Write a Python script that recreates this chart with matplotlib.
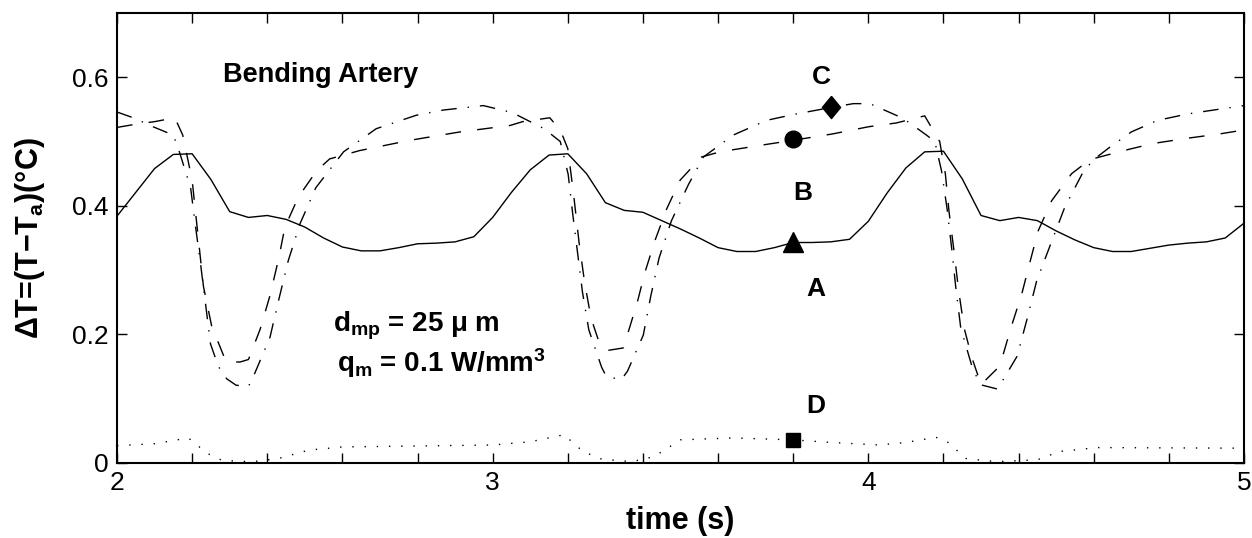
import matplotlib
matplotlib.use("Agg")
import matplotlib.pyplot as plt

plt.rcParams['font.family'] = ['Liberation Sans', 'DejaVu Sans']
plt.rcParams['mathtext.fontset'] = 'custom'
plt.rcParams['mathtext.rm'] = 'Liberation Sans'
plt.rcParams['mathtext.bf'] = 'Liberation Sans:bold'
plt.rcParams['mathtext.it'] = 'Liberation Sans:italic'

# --- data ---
# A (solid): sampled every 0.05 s
t_a = [2.00, 2.05, 2.10, 2.15, 2.20, 2.25, 2.30, 2.35, 2.40, 2.45,
       2.50, 2.55, 2.60, 2.65, 2.70, 2.75, 2.80, 2.85, 2.90, 2.95,
       3.00, 3.05, 3.10, 3.15, 3.20, 3.25, 3.30, 3.35, 3.40, 3.45,
       3.50, 3.55, 3.60, 3.65, 3.70, 3.75, 3.80, 3.85, 3.90, 3.95,
       4.00, 4.05, 4.10, 4.15, 4.20, 4.25, 4.30, 4.35, 4.40, 4.45,
       4.50, 4.55, 4.60, 4.65, 4.70, 4.75, 4.80, 4.85, 4.90, 4.95, 5.00]
dT_a = [0.384, 0.421, 0.458, 0.480, 0.481, 0.441, 0.391, 0.382, 0.385, 0.379,
        0.367, 0.350, 0.336, 0.330, 0.330, 0.335, 0.341, 0.342, 0.344, 0.352,
        0.382, 0.421, 0.456, 0.479, 0.481, 0.450, 0.405, 0.393, 0.390, 0.377,
        0.364, 0.350, 0.335, 0.329, 0.329, 0.335, 0.343, 0.343, 0.344, 0.348,
        0.376, 0.420, 0.459, 0.484, 0.485, 0.442, 0.385, 0.377, 0.382, 0.377,
        0.361, 0.347, 0.335, 0.329, 0.329, 0.334, 0.339, 0.342, 0.344, 0.350, 0.373]

# B (dashed)
t_b = [2.000, 2.050, 2.100, 2.154, 2.175, 2.200, 2.230, 2.252, 2.290, 2.327,
       2.350, 2.381, 2.407, 2.430, 2.447, 2.483, 2.532, 2.566, 2.646, 2.780,
       2.913, 3.046, 3.080, 3.152, 3.180, 3.200, 3.215, 3.230, 3.245, 3.262,
       3.285, 3.305, 3.348, 3.385, 3.405, 3.432, 3.463, 3.499, 3.556, 3.605,
       3.711, 3.800, 3.906, 4.000, 4.075, 4.150, 4.190, 4.205, 4.215, 4.228,
       4.240, 4.255, 4.275, 4.300, 4.345, 4.359, 4.381, 4.408, 4.430, 4.452,
       4.488, 4.541, 4.590, 4.680, 4.758, 4.847, 4.936, 5.000]
dT_b = [0.522, 0.527, 0.531, 0.537, 0.510, 0.440, 0.275, 0.213, 0.158, 0.157,
        0.161, 0.208, 0.260, 0.317, 0.367, 0.414, 0.455, 0.473, 0.486, 0.502,
        0.515, 0.525, 0.531, 0.537, 0.518, 0.489, 0.420, 0.343, 0.280, 0.225,
        0.185, 0.175, 0.179, 0.250, 0.296, 0.346, 0.395, 0.440, 0.476, 0.484,
        0.494, 0.502, 0.512, 0.523, 0.529, 0.540, 0.500, 0.450, 0.390, 0.330,
        0.270, 0.210, 0.165, 0.122, 0.148, 0.169, 0.213, 0.262, 0.312, 0.361,
        0.408, 0.450, 0.472, 0.486, 0.497, 0.505, 0.512, 0.518]

# C (dash-dot)
t_c = [2.000, 2.048, 2.088, 2.150, 2.165, 2.196, 2.209, 2.223, 2.236, 2.249,
       2.270, 2.292, 2.317, 2.350, 2.367, 2.407, 2.431, 2.456, 2.487, 2.529,
       2.603, 2.690, 2.797, 2.868, 2.975, 3.046, 3.066, 3.137, 3.180, 3.201,
       3.213, 3.226, 3.239, 3.256, 3.290, 3.303, 3.343, 3.359, 3.401, 3.421,
       3.443, 3.476, 3.521, 3.561, 3.640, 3.729, 3.800, 3.900, 3.960, 4.004,
       4.093, 4.155, 4.177, 4.195, 4.210, 4.222, 4.233, 4.246, 4.275, 4.297,
       4.344, 4.396, 4.423, 4.448, 4.485, 4.523, 4.572, 4.600, 4.640, 4.700,
       4.770, 4.850, 4.930, 5.000]
dT_c = [0.546, 0.536, 0.525, 0.510, 0.486, 0.428, 0.368, 0.307, 0.246, 0.185,
        0.150, 0.131, 0.121, 0.119, 0.140, 0.195, 0.255, 0.315, 0.372, 0.428,
        0.484, 0.520, 0.541, 0.549, 0.556, 0.546, 0.541, 0.520, 0.500, 0.449,
        0.388, 0.327, 0.266, 0.207, 0.149, 0.134, 0.130, 0.143, 0.199, 0.260,
        0.319, 0.377, 0.433, 0.476, 0.510, 0.533, 0.542, 0.553, 0.559, 0.559,
        0.536, 0.510, 0.500, 0.454, 0.394, 0.333, 0.272, 0.210, 0.152, 0.122,
        0.115, 0.166, 0.225, 0.283, 0.340, 0.398, 0.453, 0.472, 0.490, 0.515,
        0.533, 0.543, 0.550, 0.556]

# D (dotted)
t_d = [2.00, 2.10, 2.19, 2.24, 2.28, 2.36, 2.43, 2.51, 2.60, 3.00,
       3.10, 3.19, 3.24, 3.29, 3.37, 3.43, 3.50, 3.64, 3.80, 3.90,
       4.03, 4.10, 4.18, 4.21, 4.26, 4.34, 4.45, 4.51, 4.61, 5.00]
dT_d = [0.027, 0.030, 0.039, 0.015, 0.004, 0.002, 0.007, 0.020, 0.025, 0.028,
        0.033, 0.044, 0.018, 0.006, 0.002, 0.010, 0.036, 0.039, 0.036, 0.032,
        0.028, 0.032, 0.040, 0.033, 0.007, 0.002, 0.005, 0.018, 0.024, 0.023]

# marker points and their labels
mark_t = {'A': 3.8, 'B': 3.8, 'C': 3.9, 'D': 3.8}
mark_v = {'A': 0.344, 'B': 0.504, 'C': 0.553, 'D': 0.036}
lab_t = {'A': 3.861, 'B': 3.826, 'C': 3.874, 'D': 3.861}
lab_v = {'A': 0.271, 'B': 0.420, 'C': 0.601, 'D': 0.088}

fig = plt.figure(figsize=(12.52, 5.38), dpi=100)
ax = fig.add_axes([117/1252, 1 - 463/538, 1127/1252, 450/538])

ax.plot(t_a, dT_a, color='k', lw=1.0, ls='-')
ax.plot(t_b, dT_b, color='k', lw=1.0, ls=(0, (11.3, 11.7)))
ax.plot(t_c, dT_c, color='k', lw=1.0, ls=(0, (11.2, 7.9, 1.0, 7.9)))
ax.plot(t_d, dT_d, color='k', lw=1.0, ls=(0, (1.0, 7.8)))

diamond = [(0, 1), (0.82, 0), (0, -1), (-0.82, 0), (0, 1)]
ax.plot(mark_t['A'], mark_v['A'], marker='^', ms=14, color='k', ls='none')
ax.plot(mark_t['B'], mark_v['B'], marker='o', ms=12, color='k', ls='none')
ax.plot(mark_t['C'], mark_v['C'], marker=diamond, ms=16, color='k', ls='none')
ax.plot(mark_t['D'], mark_v['D'], marker='s', ms=10, color='k', ls='none')

for k in ['A', 'B', 'C', 'D']:
    ax.text(lab_t[k], lab_v[k], k, fontsize=19, fontweight='bold',
            ha='center', va='center')

ax.text(2.282, 0.592, 'Bending Artery', fontsize=19.5, fontweight='bold')
ax.text(2.575, 0.205, 'd$_\\mathbf{mp}$ = 25 \u03bc m', fontsize=20, fontweight='bold')
ax.text(2.586, 0.141, 'q$_\\mathbf{m}$ = 0.1 W/mm$^\\mathbf{3}$', fontsize=20, fontweight='bold')

ax.set_xlim(2, 5)
ax.set_ylim(0, 0.7)
xt = [2.0, 2.2, 2.4, 2.6, 2.8, 3.0, 3.2, 3.4, 3.6, 3.8, 4.0, 4.2, 4.4, 4.6, 4.8, 5.0]
ax.set_xticks(xt)
ax.set_xticklabels([('%d' % v) if abs(v - round(v)) < 1e-9 else '' for v in xt])
ax.set_yticks([0, 0.2, 0.4, 0.6])
ax.set_yticklabels(['0', '0.2', '0.4', '0.6'])
ax.tick_params(direction='in', top=True, right=True, length=7, width=1.0,
               labelsize=19, pad=6)
for s in ax.spines.values():
    s.set_linewidth(1.5)

ax.set_xlabel('time (s)', fontsize=22, fontweight='bold')
ax.xaxis.set_label_coords(0.5, -0.095)
ax.set_ylabel('\u0394T=(T\u2212T$_\\mathbf{a}$)(\u00b0C)', fontsize=22, fontweight='bold')
ax.yaxis.set_label_coords(-0.062, 0.5)

fig.savefig('out.png', dpi=100)
